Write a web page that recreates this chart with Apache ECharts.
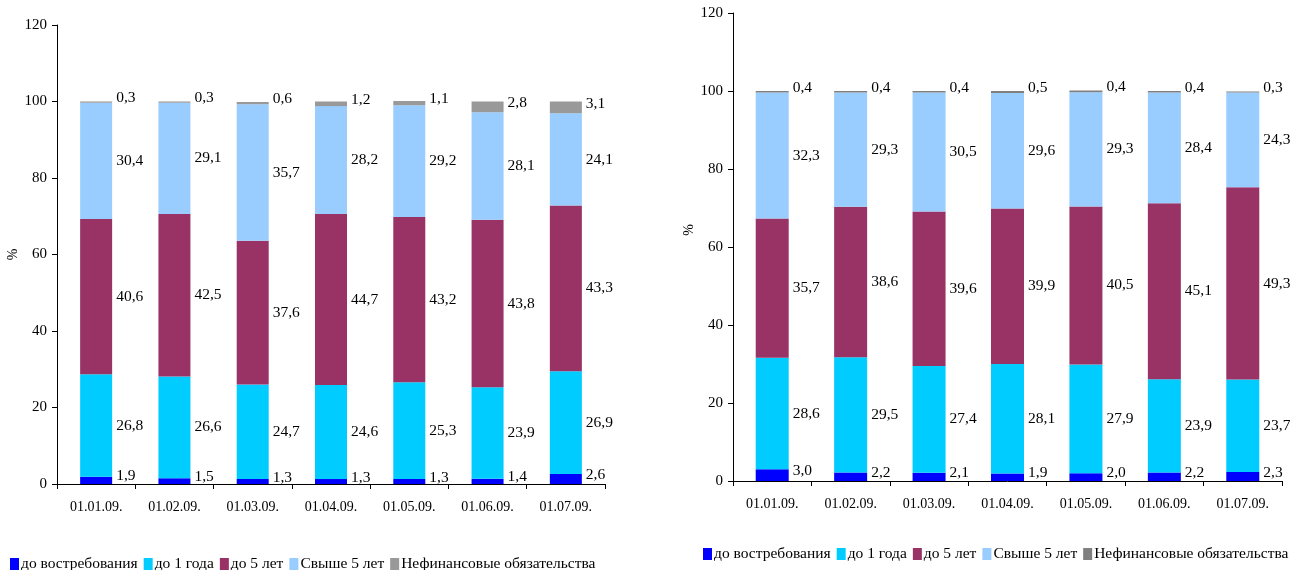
<!DOCTYPE html>
<html><head><meta charset="utf-8">
<script src="https://cdn.jsdelivr.net/npm/echarts@6/dist/echarts.min.js"></script>
<style>html,body{margin:0;padding:0;background:#fff}#c{width:1306px;height:570px}</style>
</head><body><div id="c"></div>
<script>
const categories = ['01.01.09.','01.02.09.','01.03.09.','01.04.09.','01.05.09.','01.06.09.','01.07.09.'];
const seriesNames = ['до востребования','до 1 года','до 5 лет','Свыше 5 лет','Нефинансовые обязательства'];
const yTicks = [0,20,40,60,80,100,120];

// left chart
const demandL = [1.9,1.5,1.3,1.3,1.3,1.4,2.6];
const year1L  = [26.8,26.6,24.7,24.6,25.3,23.9,26.9];
const year5L  = [40.6,42.5,37.6,44.7,43.2,43.8,43.3];
const over5L  = [30.4,29.1,35.7,28.2,29.2,28.1,24.1];
const nonfinL = [0.3,0.3,0.6,1.2,1.1,2.8,3.1];

// right chart
const demandR = [3.0,2.2,2.1,1.9,2.0,2.2,2.3];
const year1R  = [28.6,29.5,27.4,28.1,27.9,23.9,23.7];
const year5R  = [35.7,38.6,39.6,39.9,40.5,45.1,49.3];
const over5R  = [32.3,29.3,30.5,29.6,29.3,28.4,24.3];
const nonfinR = [0.4,0.4,0.4,0.5,0.4,0.4,0.3];

const colorsL = ['#0000FF','#00CCFF','#993366','#99CCFF','#999999'];
const colorsR = ['#0000FF','#00CCFF','#993366','#99CCFF','#808080'];
const FONT = "'Liberation Serif','Times New Roman',serif";

const chart = echarts.init(document.getElementById('c'));

function xAx(gi){
  return {
    type:'category', gridIndex:gi, data:categories,
    axisLine:{lineStyle:{color:'#000',width:1}},
    axisTick:{show:true,length:5,lineStyle:{color:'#000'}},
    axisLabel:{color:'#000',fontFamily:FONT,fontSize:14,margin:16}
  };
}
function yAx(gi,gap,pad){
  return {
    type:'value', gridIndex:gi, min:yTicks[0], max:yTicks[yTicks.length-1], interval:20,
    name:'%', nameLocation:'middle', nameRotate:90, nameGap:gap,
    nameTextStyle:{color:'#000',fontFamily:FONT,fontSize:14,padding:pad},
    axisLine:{show:true,lineStyle:{color:'#000',width:1}},
    axisTick:{show:true,length:5,lineStyle:{color:'#000'}},
    splitLine:{show:false},
    axisLabel:{color:'#000',fontFamily:FONT,fontSize:15,margin:10}
  };
}
const fmt = p => p.value.toFixed(1).replace('.',',');
function mk(name,data,color,gi,stack,bw,idx){
  const off = (idx===0 || idx===4) ? [0,-4] : [0,0];
  return {
    type:'bar', name:name, data:data, stack:stack, xAxisIndex:gi, yAxisIndex:gi,
    barWidth:bw, itemStyle:{color:color}, emphasis:{disabled:true},
    label:{show:true,position:'right',distance:4,offset:off,formatter:fmt,color:'#000',fontFamily:FONT,fontSize:15.5}
  };
}
const dataL = [demandL,year1L,year5L,over5L,nonfinL];
const dataR = [demandR,year1R,year5R,over5R,nonfinR];
const series = [];
seriesNames.forEach((n,i)=>series.push(mk(n,dataL[i],colorsL[i],0,'L',32,i)));
seriesNames.forEach((n,i)=>series.push(mk(n,dataR[i],colorsR[i],1,'R',33,i)));

function lg(left,top,colors){
  return {
    left:left, top:top, orient:'horizontal', itemWidth:9, itemHeight:12, itemGap:6,
    icon:'rect', selectedMode:false,
    textStyle:{color:'#000',fontFamily:FONT,fontSize:15.5,padding:[0,0,0,-3]},
    data:seriesNames.map((n,i)=>({name:n,itemStyle:{color:colors[i]}}))
  };
}

chart.setOption({
  animation:false,
  grid:[
    {left:57, top:25, width:548, height:459},
    {left:733, top:13, width:549, height:468}
  ],
  xAxis:[xAx(0),xAx(1)],
  yAxis:[yAx(0,33,[0,0,0,0]),yAx(1,31,[0,0,0,34])],
  legend:[lg(5,551,colorsL),lg(698,541,colorsR)],
  series:series
});
</script></body></html>
